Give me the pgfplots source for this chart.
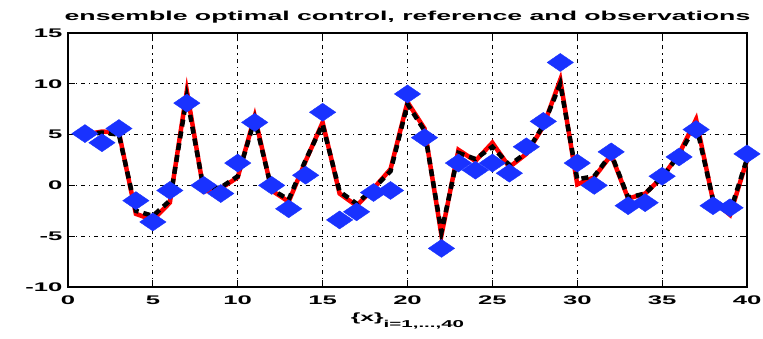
\documentclass[border=0pt]{standalone}
\usepackage{pgfplots}
\pgfplotsset{compat=1.18}
\usepackage{fontspec}
\setmainfont{Liberation Sans}[FakeStretch=2.05]
\pgfplotstableread{
x obs ref ctl
1 5.1 5.0 5.0
2 4.2 5.3 5.2
3 5.6 5.2 5.0
4 -1.5 -2.8 -2.5
5 -3.6 -3.4 -3.0
6 -0.5 -1.7 -1.5
7 8.1 9.3 8.7
8 0.0 -0.6 -0.4
9 -0.8 -0.3 -0.2
10 2.2 0.8 0.9
11 6.2 6.8 6.5
12 0.0 -0.5 -0.4
13 -2.3 -1.6 -1.4
14 1.0 2.4 2.5
15 7.2 6.2 6.0
16 -3.4 -0.8 -0.6
17 -2.6 -2.0 -1.8
18 -0.7 -0.3 -0.3
19 -0.5 1.6 1.4
20 9.0 8.2 8.0
21 4.7 5.6 5.4
22 -6.2 -4.9 -4.6
23 2.2 3.5 3.2
24 1.5 2.4 2.6
25 2.2 4.2 3.8
26 1.2 1.8 2.0
27 3.8 3.1 3.2
28 6.3 5.8 5.9
29 12.1 10.4 10.0
30 2.2 0.1 0.6
31 0.0 0.8 0.9
32 3.3 3.0 3.1
33 -2.0 -1.3 -1.2
34 -1.7 -0.8 -0.8
35 0.9 0.8 0.8
36 2.8 3.1 3.0
37 5.5 6.5 6.0
38 -2.0 -1.5 -1.4
39 -2.2 -2.9 -2.6
40 3.1 2.5 2.6
}\datatable
\definecolor{obsblue}{RGB}{25,50,255}
\begin{document}
\begin{tikzpicture}
\begin{axis}[
  scale only axis,
  width=679pt, height=254pt,
  xmin=0, xmax=40, ymin=-10, ymax=15,
  xtick={0,5,...,40}, ytick={-10,-5,...,15},
  tick align=inside,
  major tick length=7pt,
  axis line style={line width=1.3pt},
  tick style={line width=1.2pt, black},
  grid=major,
  major grid style={black, line width=1.1pt, dash pattern=on 4pt off 4pt on 1.2pt off 4pt},
  ticklabel style={font=\fontsize{12.5}{14}\selectfont\bfseries},
  xticklabel style={yshift=-5pt},
  yticklabel style={xshift=-2pt},
  /pgf/number format/assume math mode=true,
  title={\fontsize{13}{15}\selectfont\bfseries ensemble optimal control, reference and observations},
  title style={yshift=0pt},
  xlabel={\fontsize{12}{14}\selectfont\bfseries \{x\}\raisebox{-0.8ex}{\fontsize{10}{11}\selectfont\bfseries i=1,...,40}},
  xlabel style={yshift=-2pt},
  clip=false,
]
\addplot[red, line width=4.5pt] table[x=x, y=ref] {\datatable};
\addplot[black, line width=4.5pt, dash pattern=on 7pt off 5pt] table[x=x, y=ctl] {\datatable};
\addplot[only marks, mark=diamond*, mark size=9pt, color=obsblue,
  mark options={xscale=1.95, fill=obsblue, draw=obsblue}] table[x=x, y=obs] {\datatable};
\end{axis}
\pgfresetboundingbox
\path ([shift={(-68pt,-51pt)}]current axis.south west) rectangle ([shift={(16pt,33pt)}]current axis.north east);
\end{tikzpicture}
\end{document}
